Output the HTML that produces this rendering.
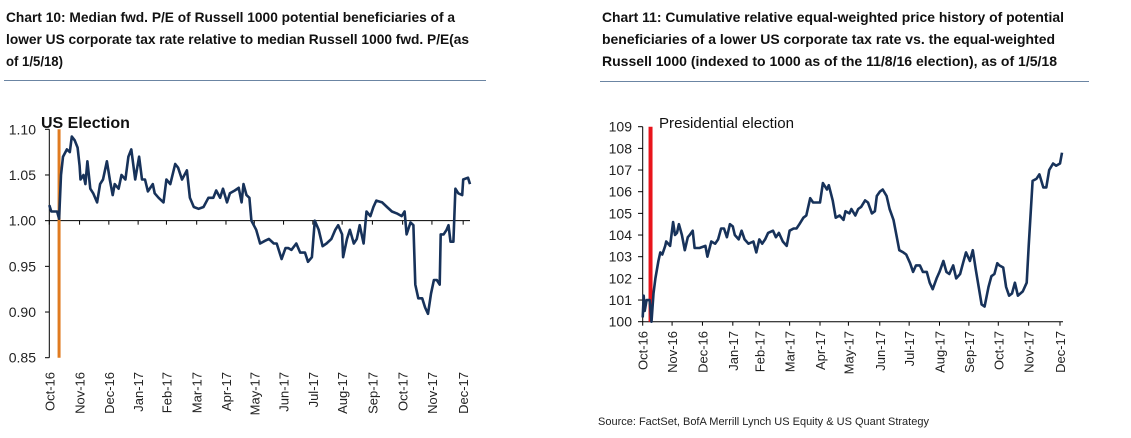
<!DOCTYPE html>
<html><head><meta charset="utf-8"><style>
html,body{margin:0;padding:0;background:#fff;}
svg{display:block;font-family:"Liberation Sans",Arial,sans-serif;}
</style></head><body>
<svg id="root" width="1131" height="438" viewBox="0 0 1131 438">
<g font-weight="bold" font-size="14" fill="#111">
<text x="6" y="22" textLength="449" lengthAdjust="spacingAndGlyphs">Chart 10: Median fwd. P/E of Russell 1000 potential beneficiaries of a</text>
<text x="6" y="44" textLength="463" lengthAdjust="spacingAndGlyphs">lower US corporate tax rate relative to median Russell 1000 fwd. P/E(as</text>
<text x="6" y="66" textLength="57" lengthAdjust="spacingAndGlyphs">of 1/5/18)</text>
</g>
<line x1="4" y1="80.5" x2="486" y2="80.5" stroke="#6b85a3" stroke-width="1"/>
<g font-weight="bold" font-size="14" fill="#111">
<text x="602" y="22" textLength="462" lengthAdjust="spacingAndGlyphs">Chart 11: Cumulative relative equal-weighted price history of potential</text>
<text x="602" y="44" textLength="453" lengthAdjust="spacingAndGlyphs">beneficiaries of a lower US corporate tax rate vs. the equal-weighted</text>
<text x="602" y="66" textLength="455" lengthAdjust="spacingAndGlyphs">Russell 1000 (indexed to 1000 as of the 11/8/16 election), as of 1/5/18</text>
</g>
<line x1="600" y1="81.5" x2="1089" y2="81.5" stroke="#6b85a3" stroke-width="1"/>
<g id="c10"></g>
<g id="c11"></g>
<text x="598" y="425" font-size="11" fill="#222">Source: FactSet, BofA Merrill Lynch US Equity &amp; US Quant Strategy</text>
</svg>
<script>
// ---- Chart 10 data ----
const monthLabels = ["Oct-16","Nov-16","Dec-16","Jan-17","Feb-17","Mar-17","Apr-17","May-17","Jun-17","Jul-17","Aug-17","Sep-17","Oct-17","Nov-17","Dec-17"];
const c10TickDays = [0,31,61,91,120,151,181,210,240,270,300,331,362,392,424];
const c10YTicks = [0.85,0.90,0.95,1.00,1.05,1.10];
const c10ElectionDay = 10;
const c10Days = [0,2,8,10,12,14,18,21,23,26,29,31,32,35,37,39,42,45,49,52,55,59,62,65,67,71,74,78,81,84,88,92,95,98,101,106,108,112,117,120,124,129,132,136,141,144,148,153,158,163,168,171,175,178,182,185,190,194,197,199,202,205,207,212,216,221,225,230,233,238,242,245,248,253,257,262,265,269,272,276,280,284,289,293,296,300,301,305,308,312,315,318,322,325,329,332,335,341,346,351,356,361,364,366,370,373,375,378,382,385,388,391,394,397,400,401,404,407,409,411,414,416,419,423,424,429,431];
const c10Values = [1.017,1.01,1.01,1.002,1.05,1.07,1.078,1.075,1.092,1.088,1.08,1.06,1.045,1.05,1.04,1.065,1.035,1.03,1.02,1.04,1.045,1.065,1.045,1.028,1.04,1.035,1.05,1.045,1.07,1.078,1.045,1.07,1.045,1.045,1.032,1.04,1.03,1.025,1.02,1.045,1.04,1.062,1.058,1.045,1.055,1.025,1.015,1.013,1.015,1.025,1.025,1.033,1.025,1.035,1.02,1.03,1.033,1.036,1.02,1.04,1.028,1.025,1.0,0.99,0.975,0.978,0.98,0.975,0.975,0.958,0.97,0.97,0.968,0.975,0.965,0.965,0.955,0.96,1.0,0.99,0.972,0.975,0.98,0.99,0.995,0.985,0.96,0.98,0.99,0.975,0.98,0.995,0.975,1.01,1.005,1.015,1.022,1.02,1.015,1.01,1.008,1.005,1.01,0.985,0.998,0.995,0.93,0.915,0.915,0.905,0.898,0.92,0.935,0.935,0.93,0.985,0.985,0.99,0.995,0.977,0.977,1.035,1.03,1.028,1.045,1.047,1.04];
// ---- Chart 11 data ----
const c11TickDays = [0,30,61,92,119,150,181,210,242,272,303,333,363,394,426];
const c11YTicks = [100,101,102,103,104,105,106,107,108,109];
const c11ElectionDay = 8;
const c11Days = [0,1,2,4,7,9,11,13,16,18,20,23,24,28,31,33,35,37,40,43,46,48,51,53,58,64,66,70,74,77,80,83,86,89,92,94,98,101,104,108,113,116,119,122,125,128,133,136,139,143,147,150,154,157,160,164,167,171,174,177,181,184,188,190,194,197,201,205,207,211,213,217,220,223,227,230,234,237,239,242,245,249,252,256,259,262,266,269,273,276,279,283,286,290,293,296,300,303,307,310,313,317,320,324,327,330,334,337,340,343,346,349,353,356,359,362,364,368,371,374,377,380,383,388,392,394,398,402,405,409,412,415,419,422,426,428];
const c11Values = [100.2,101.2,100.5,101.0,101.0,100.0,101.3,102.0,102.8,103.2,103.1,103.5,103.7,103.5,104.6,104.0,104.1,104.5,104.0,103.3,103.9,104.0,104.2,103.4,103.4,103.5,103.0,103.7,103.6,103.8,104.3,104.3,103.9,104.5,104.4,104.0,103.8,104.2,103.8,103.6,103.7,103.2,103.8,103.6,103.8,104.1,104.2,103.9,104.1,103.7,103.5,104.2,104.3,104.3,104.5,104.8,104.9,105.7,105.5,105.5,105.5,106.4,106.1,106.3,105.6,104.8,104.9,104.7,105.1,105.0,105.2,104.9,105.2,105.3,105.6,105.5,105.0,105.1,105.8,106.0,106.1,105.8,105.2,104.7,104.0,103.3,103.2,103.1,102.7,102.3,102.6,102.6,102.3,102.3,101.8,101.5,102.0,102.3,102.8,102.3,102.2,102.6,102.0,102.2,102.7,103.2,102.8,103.3,102.4,101.6,100.8,100.7,101.6,102.1,102.2,102.7,102.6,102.5,101.6,101.2,101.3,101.8,101.2,101.4,101.8,103.5,106.5,106.6,106.8,106.2,106.2,107.0,107.3,107.2,107.3,107.8];

const NS="http://www.w3.org/2000/svg";
function mk(tag,attrs,parent){const e=document.createElementNS(NS,tag);for(const k in attrs)e.setAttribute(k,attrs[k]);parent.appendChild(e);return e;}
function lin(d0,d1,r0,r1){return v=>r0+(v-d0)/(d1-d0)*(r1-r0);}

// Chart 10
(function(){
 const g=document.getElementById('c10');
 const x=lin(0,431,49.3,470), y=lin(0.85,1.10,357.7,129.3);
 const ax=mk('line',{x1:49.3,y1:y(1.10),x2:49.3,y2:y(0.85),stroke:'#000','stroke-width':1},g);
 
 
 c10YTicks.forEach(v=>{
  const t=mk('line',{x1:45,x2:49.3,y1:y(v),y2:y(v),stroke:'#000'},g);
  
  
  const l=mk('text',{x:36,y:y(v)+5,'font-size':14,'text-anchor':'end',fill:'#222'},g);
  l.textContent=v.toFixed(2);
  
  
 });
 const base=mk('line',{x1:49.3,x2:470,y1:y(1.0),y2:y(1.0),stroke:'#000','stroke-width':1},g);
 
 
 c10TickDays.forEach((d,i)=>{
  const t=mk('line',{x1:x(d),x2:x(d),y1:y(1.0),y2:y(1.0)+4,stroke:'#000'},g);
  
  
  const l=mk('text',{transform:`translate(${x(d)+5},372) rotate(-90)`,'font-size':13,'text-anchor':'end',fill:'#222'},g);
  l.textContent=monthLabels[i];
  
  
 });
 const el=mk('line',{x1:x(c10ElectionDay),x2:x(c10ElectionDay),y1:y(1.10),y2:y(0.85),stroke:'#e07b20','stroke-width':3},g);
 
 
 const et=mk('text',{x:41,y:128,'font-size':16,'font-weight':'bold',fill:'#111'},g);
 et.textContent='US Election';
 
 
 const p=mk('path',{d:c10Days.map((d,i)=>(i?'L':'M')+x(d).toFixed(1)+','+y(c10Values[i]).toFixed(1)).join(''),fill:'none',stroke:'#17325a','stroke-width':2.6,'stroke-linejoin':'round'},g);
 
 
})();

// Chart 11
(function(){
 const g=document.getElementById('c11');
 const x=lin(0,426,642.7,1060), y=lin(100,109,321.7,126.7);
 const ax=mk('line',{x1:642.7,y1:y(109),x2:642.7,y2:y(100),stroke:'#000'},g);
 
 
 const bx=mk('line',{x1:642.7,y1:y(100),x2:1063,y2:y(100),stroke:'#000'},g);
 
 
 c11YTicks.forEach(v=>{
  const t=mk('line',{x1:638,x2:642.7,y1:y(v),y2:y(v),stroke:'#000'},g);
  
  
  const l=mk('text',{x:632,y:y(v)+5,'font-size':14,'text-anchor':'end',fill:'#222'},g);
  l.textContent=String(v);
  
  
 });
 c11TickDays.forEach((d,i)=>{
  const t=mk('line',{x1:x(d),x2:x(d),y1:y(100),y2:y(100)+4,stroke:'#000'},g);
  
  
  const l=mk('text',{transform:`translate(${x(d)+5},331) rotate(-90)`,'font-size':13,'text-anchor':'end',fill:'#222'},g);
  l.textContent=monthLabels[i];
  
  
 });
 const el=mk('line',{x1:x(c11ElectionDay),x2:x(c11ElectionDay),y1:y(109),y2:y(100),stroke:'#e8141b','stroke-width':4},g);
 
 
 const et=mk('text',{x:659,y:128,'font-size':15,fill:'#111',textLength:135,lengthAdjust:'spacingAndGlyphs'},g);
 et.textContent='Presidential election';
 
 
 const p=mk('path',{d:c11Days.map((d,i)=>(i?'L':'M')+x(d).toFixed(1)+','+y(c11Values[i]).toFixed(1)).join(''),fill:'none',stroke:'#17325a','stroke-width':2.6,'stroke-linejoin':'round'},g);
 
 
})();
</script>
</body></html>
